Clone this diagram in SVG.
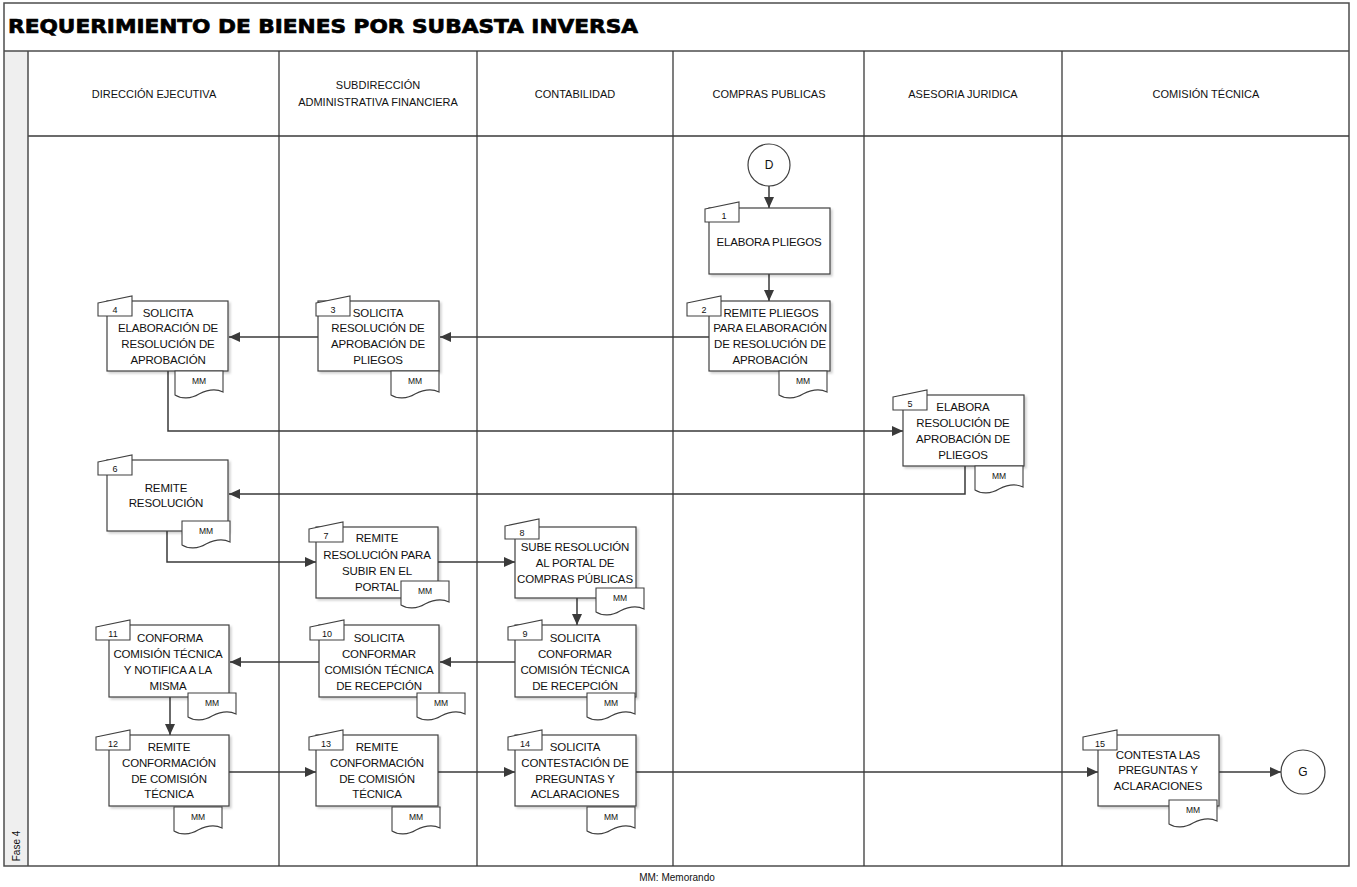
<svg xmlns="http://www.w3.org/2000/svg" xmlns:xlink="http://www.w3.org/1999/xlink" width="1357" height="887" viewBox="0 0 1357 887">
  <style>
    .frame { fill: none; stroke: #4d4d4d; stroke-width: 1.5; }
    .lane { fill: none; stroke: #3a3a3a; stroke-width: 1.3; }
    .title { font-family: "DejaVu Sans", "Liberation Sans", sans-serif; font-weight: bold; font-size: 20px; fill: #000; stroke: #000; stroke-width: 0.7; }
    .hdr { font-family: "Liberation Sans", Arial, sans-serif; font-size: 11px; fill: #111; text-anchor: middle; dominant-baseline: central; }
    .box { fill: #fff; stroke: #404040; stroke-width: 1.2; }
    .lbl { font-family: "Liberation Sans", Arial, sans-serif; font-size: 11.5px; letter-spacing: -0.15px; fill: #111; text-anchor: middle; dominant-baseline: central; }
    .num { font-family: "Liberation Sans", Arial, sans-serif; font-size: 9px; fill: #111; text-anchor: middle; }
    .mm { font-family: "Liberation Sans", Arial, sans-serif; font-size: 8.5px; fill: #111; text-anchor: middle; }
    .circ { fill: #fff; stroke: #404040; stroke-width: 1.2; }
    .ctext { font-family: "Liberation Sans", Arial, sans-serif; font-size: 12px; fill: #111; text-anchor: middle; dominant-baseline: central; }
    .conn { fill: none; stroke: #3a3a3a; stroke-width: 1.5; marker-end: url(#arrow); }
    .note { font-family: "Liberation Sans", Arial, sans-serif; font-size: 10px; fill: #111; text-anchor: middle; }
  </style>
  <defs>
    <marker id="arrow" markerUnits="userSpaceOnUse" markerWidth="12" markerHeight="10" refX="11" refY="5" orient="auto">
      <path d="M0,0 L11,5 L0,10 Z" fill="#3a3a3a"/>
    </marker>
    <filter id="shadow" x="-10%" y="-10%" width="125%" height="125%">
      <feDropShadow dx="2" dy="2" stdDeviation="1" flood-color="#000" flood-opacity="0.18"/>
    </filter>
    <!-- step number tab (manual input shape) -->
    <path id="tab" d="M0,7 L34,0 L34,20 L0,20 Z" fill="#fff" stroke="#404040" stroke-width="1.1"/>
    <!-- memo document shape -->
    <path id="doc" d="M0,0 H48 V21 C40,17 32,19 24,23 C16,28 6,28 0,24 Z" fill="#fff" stroke="#404040" stroke-width="1.1"/>
  </defs>

  <rect width="1357" height="887" fill="#fff"/>

  <!-- frame, title band and swimlanes -->
  <g id="pool">
    <rect x="4" y="51" width="24" height="815" fill="#efefef"/>
    <rect class="frame" x="4" y="3" width="1345" height="863"/>
    <line class="frame" x1="4" y1="51" x2="1349" y2="51"/>
    <line class="lane" x1="28" y1="136" x2="1349" y2="136"/>
    <line class="frame" x1="28" y1="51" x2="28" y2="866"/>
    <line class="lane" x1="279" y1="51" x2="279" y2="866"/>
    <line class="lane" x1="477" y1="51" x2="477" y2="866"/>
    <line class="lane" x1="673" y1="51" x2="673" y2="866"/>
    <line class="lane" x1="864" y1="51" x2="864" y2="866"/>
    <line class="lane" x1="1062" y1="51" x2="1062" y2="866"/>
    <text class="title" x="8" y="33" textLength="630" lengthAdjust="spacingAndGlyphs">REQUERIMIENTO DE BIENES POR SUBASTA INVERSA</text>
    <text class="hdr" x="154" y="94">DIRECCIÓN EJECUTIVA</text>
    <text class="hdr" x="378" y="85">SUBDIRECCIÓN</text>
    <text class="hdr" x="378" y="102">ADMINISTRATIVA FINANCIERA</text>
    <text class="hdr" x="575" y="94">CONTABILIDAD</text>
    <text class="hdr" x="769" y="94">COMPRAS PUBLICAS</text>
    <text class="hdr" x="963" y="94">ASESORIA JURIDICA</text>
    <text class="hdr" x="1206" y="94">COMISIÓN TÉCNICA</text>
    <text class="hdr" transform="translate(16,846) rotate(-90)" style="font-size:10px">Fase 4</text>
  </g>

  <!-- connectors -->
  <g id="connectors">
    <path class="conn" d="M769,186 V208"/>
    <path class="conn" d="M769,274 V301"/>
    <path class="conn" d="M709,337 H440"/>
    <path class="conn" d="M318,337 H229"/>
    <path class="conn" d="M168,371 V431 H903"/>
    <path class="conn" d="M965,466 V494 H229"/>
    <path class="conn" d="M167,531 V562 H316"/>
    <path class="conn" d="M438,562 H515"/>
    <path class="conn" d="M577,598 V625"/>
    <path class="conn" d="M515,662 H440"/>
    <path class="conn" d="M319,662 H230"/>
    <path class="conn" d="M170,697 V735"/>
    <path class="conn" d="M229,772 H316"/>
    <path class="conn" d="M438,772 H515"/>
    <path class="conn" d="M636,772 H1098"/>
    <path class="conn" d="M1219,772 H1281"/>
  </g>

  <!-- start / end connectors -->
  <g id="startD">
    <circle class="circ" cx="769" cy="165" r="21"/>
    <text class="ctext" x="769" y="165">D</text>
  </g>
  <g id="endG">
    <circle class="circ" cx="1303" cy="772" r="22"/>
    <text class="ctext" x="1303" y="772">G</text>
  </g>

  <!-- process steps -->
  <g id="n1">
    <rect class="box" x="709" y="208" width="121" height="66" filter="url(#shadow)"/>
    <text class="lbl" x="769" y="242">ELABORA PLIEGOS</text>
    <use href="#tab" x="705" y="202"/>
    <text class="num" x="724" y="219">1</text>
  </g>

  <g id="n2">
    <rect class="box" x="709" y="301" width="121" height="70" filter="url(#shadow)"/>
    <text class="lbl" x="771" y="313">REMITE PLIEGOS</text>
    <text class="lbl" x="770" y="328">PARA ELABORACIÓN</text>
    <text class="lbl" x="770" y="344">DE RESOLUCIÓN DE</text>
    <text class="lbl" x="770" y="360">APROBACIÓN</text>
    <use href="#tab" x="687" y="296"/>
    <text class="num" x="704" y="313">2</text>
    <use href="#doc" x="779" y="371"/>
    <text class="mm" x="803" y="384">MM</text>
  </g>

  <g id="n3">
    <rect class="box" x="318" y="301" width="121" height="70" filter="url(#shadow)"/>
    <text class="lbl" x="378" y="313">SOLICITA</text>
    <text class="lbl" x="378" y="328">RESOLUCIÓN DE</text>
    <text class="lbl" x="378" y="344">APROBACIÓN DE</text>
    <text class="lbl" x="378" y="360">PLIEGOS</text>
    <use href="#tab" x="316" y="296"/>
    <text class="num" x="333" y="313">3</text>
    <use href="#doc" x="391" y="371"/>
    <text class="mm" x="415" y="384">MM</text>
  </g>

  <g id="n4">
    <rect class="box" x="107" y="301" width="121" height="70" filter="url(#shadow)"/>
    <text class="lbl" x="168" y="313">SOLICITA</text>
    <text class="lbl" x="168" y="328">ELABORACIÓN DE</text>
    <text class="lbl" x="168" y="344">RESOLUCIÓN DE</text>
    <text class="lbl" x="168" y="360">APROBACIÓN</text>
    <use href="#tab" x="98" y="296"/>
    <text class="num" x="115" y="313">4</text>
    <use href="#doc" x="175" y="371"/>
    <text class="mm" x="199" y="384">MM</text>
  </g>

  <g id="n5">
    <rect class="box" x="903" y="395" width="121" height="71" filter="url(#shadow)"/>
    <text class="lbl" x="963" y="407">ELABORA</text>
    <text class="lbl" x="963" y="423">RESOLUCIÓN DE</text>
    <text class="lbl" x="963" y="439">APROBACIÓN DE</text>
    <text class="lbl" x="963" y="455">PLIEGOS</text>
    <use href="#tab" x="893" y="390"/>
    <text class="num" x="910" y="407">5</text>
    <use href="#doc" x="975" y="466"/>
    <text class="mm" x="999" y="479">MM</text>
  </g>

  <g id="n6">
    <rect class="box" x="107" y="460" width="121" height="71" filter="url(#shadow)"/>
    <text class="lbl" x="166" y="488">REMITE</text>
    <text class="lbl" x="166" y="503">RESOLUCIÓN</text>
    <use href="#tab" x="98" y="455"/>
    <text class="num" x="115" y="472">6</text>
    <use href="#doc" x="182" y="521"/>
    <text class="mm" x="206" y="534">MM</text>
  </g>

  <g id="n7">
    <rect class="box" x="316" y="527" width="122" height="71" filter="url(#shadow)"/>
    <text class="lbl" x="377" y="538">REMITE</text>
    <text class="lbl" x="377" y="555">RESOLUCIÓN PARA</text>
    <text class="lbl" x="377" y="571">SUBIR EN EL</text>
    <text class="lbl" x="377" y="587">PORTAL</text>
    <use href="#tab" x="309" y="522"/>
    <text class="num" x="326" y="539">7</text>
    <use href="#doc" x="401" y="581"/>
    <text class="mm" x="425" y="594">MM</text>
  </g>

  <g id="n8">
    <rect class="box" x="515" y="527" width="121" height="71" filter="url(#shadow)"/>
    <text class="lbl" x="575" y="547">SUBE RESOLUCIÓN</text>
    <text class="lbl" x="575" y="563">AL PORTAL DE</text>
    <text class="lbl" x="575" y="579">COMPRAS PÚBLICAS</text>
    <use href="#tab" x="505" y="519"/>
    <text class="num" x="522" y="536">8</text>
    <use href="#doc" x="596" y="588"/>
    <text class="mm" x="620" y="601">MM</text>
  </g>

  <g id="n9">
    <rect class="box" x="515" y="625" width="121" height="72" filter="url(#shadow)"/>
    <text class="lbl" x="575" y="638">SOLICITA</text>
    <text class="lbl" x="575" y="654">CONFORMAR</text>
    <text class="lbl" x="575" y="670">COMISIÓN TÉCNICA</text>
    <text class="lbl" x="575" y="686">DE RECEPCIÓN</text>
    <use href="#tab" x="508" y="620"/>
    <text class="num" x="525" y="637">9</text>
    <use href="#doc" x="587" y="693"/>
    <text class="mm" x="611" y="706">MM</text>
  </g>

  <g id="n10">
    <rect class="box" x="319" y="625" width="120" height="72" filter="url(#shadow)"/>
    <text class="lbl" x="379" y="638">SOLICITA</text>
    <text class="lbl" x="379" y="654">CONFORMAR</text>
    <text class="lbl" x="379" y="670">COMISIÓN TÉCNICA</text>
    <text class="lbl" x="379" y="686">DE RECEPCIÓN</text>
    <use href="#tab" x="310" y="620"/>
    <text class="num" x="327" y="637">10</text>
    <use href="#doc" x="417" y="693"/>
    <text class="mm" x="441" y="706">MM</text>
  </g>

  <g id="n11">
    <rect class="box" x="109" y="625" width="120" height="72" filter="url(#shadow)"/>
    <text class="lbl" x="170" y="638">CONFORMA</text>
    <text class="lbl" x="168" y="654">COMISIÓN TÉCNICA</text>
    <text class="lbl" x="168" y="670">Y NOTIFICA A LA</text>
    <text class="lbl" x="168" y="686">MISMA</text>
    <use href="#tab" x="96" y="620"/>
    <text class="num" x="113" y="637">11</text>
    <use href="#doc" x="188" y="693"/>
    <text class="mm" x="212" y="706">MM</text>
  </g>

  <g id="n12">
    <rect class="box" x="109" y="735" width="120" height="71" filter="url(#shadow)"/>
    <text class="lbl" x="169" y="747">REMITE</text>
    <text class="lbl" x="169" y="763">CONFORMACIÓN</text>
    <text class="lbl" x="169" y="779">DE COMISIÓN</text>
    <text class="lbl" x="169" y="794">TÉCNICA</text>
    <use href="#tab" x="96" y="730"/>
    <text class="num" x="113" y="747">12</text>
    <use href="#doc" x="174" y="807"/>
    <text class="mm" x="198" y="820">MM</text>
  </g>

  <g id="n13">
    <rect class="box" x="316" y="735" width="122" height="71" filter="url(#shadow)"/>
    <text class="lbl" x="377" y="747">REMITE</text>
    <text class="lbl" x="377" y="763">CONFORMACIÓN</text>
    <text class="lbl" x="377" y="779">DE COMISIÓN</text>
    <text class="lbl" x="377" y="794">TÉCNICA</text>
    <use href="#tab" x="309" y="730"/>
    <text class="num" x="326" y="747">13</text>
    <use href="#doc" x="392" y="807"/>
    <text class="mm" x="416" y="820">MM</text>
  </g>

  <g id="n14">
    <rect class="box" x="515" y="735" width="121" height="71" filter="url(#shadow)"/>
    <text class="lbl" x="575" y="747">SOLICITA</text>
    <text class="lbl" x="575" y="763">CONTESTACIÓN DE</text>
    <text class="lbl" x="575" y="779">PREGUNTAS Y</text>
    <text class="lbl" x="575" y="794">ACLARACIONES</text>
    <use href="#tab" x="508" y="730"/>
    <text class="num" x="525" y="747">14</text>
    <use href="#doc" x="587" y="807"/>
    <text class="mm" x="611" y="820">MM</text>
  </g>

  <g id="n15">
    <rect class="box" x="1098" y="735" width="121" height="71" filter="url(#shadow)"/>
    <text class="lbl" x="1158" y="755">CONTESTA LAS</text>
    <text class="lbl" x="1158" y="770">PREGUNTAS Y</text>
    <text class="lbl" x="1158" y="786">ACLARACIONES</text>
    <use href="#tab" x="1083" y="730"/>
    <text class="num" x="1100" y="747">15</text>
    <use href="#doc" x="1169" y="800"/>
    <text class="mm" x="1193" y="813">MM</text>
  </g>

  <text class="note" x="677" y="881">MM: Memorando</text>
</svg>
